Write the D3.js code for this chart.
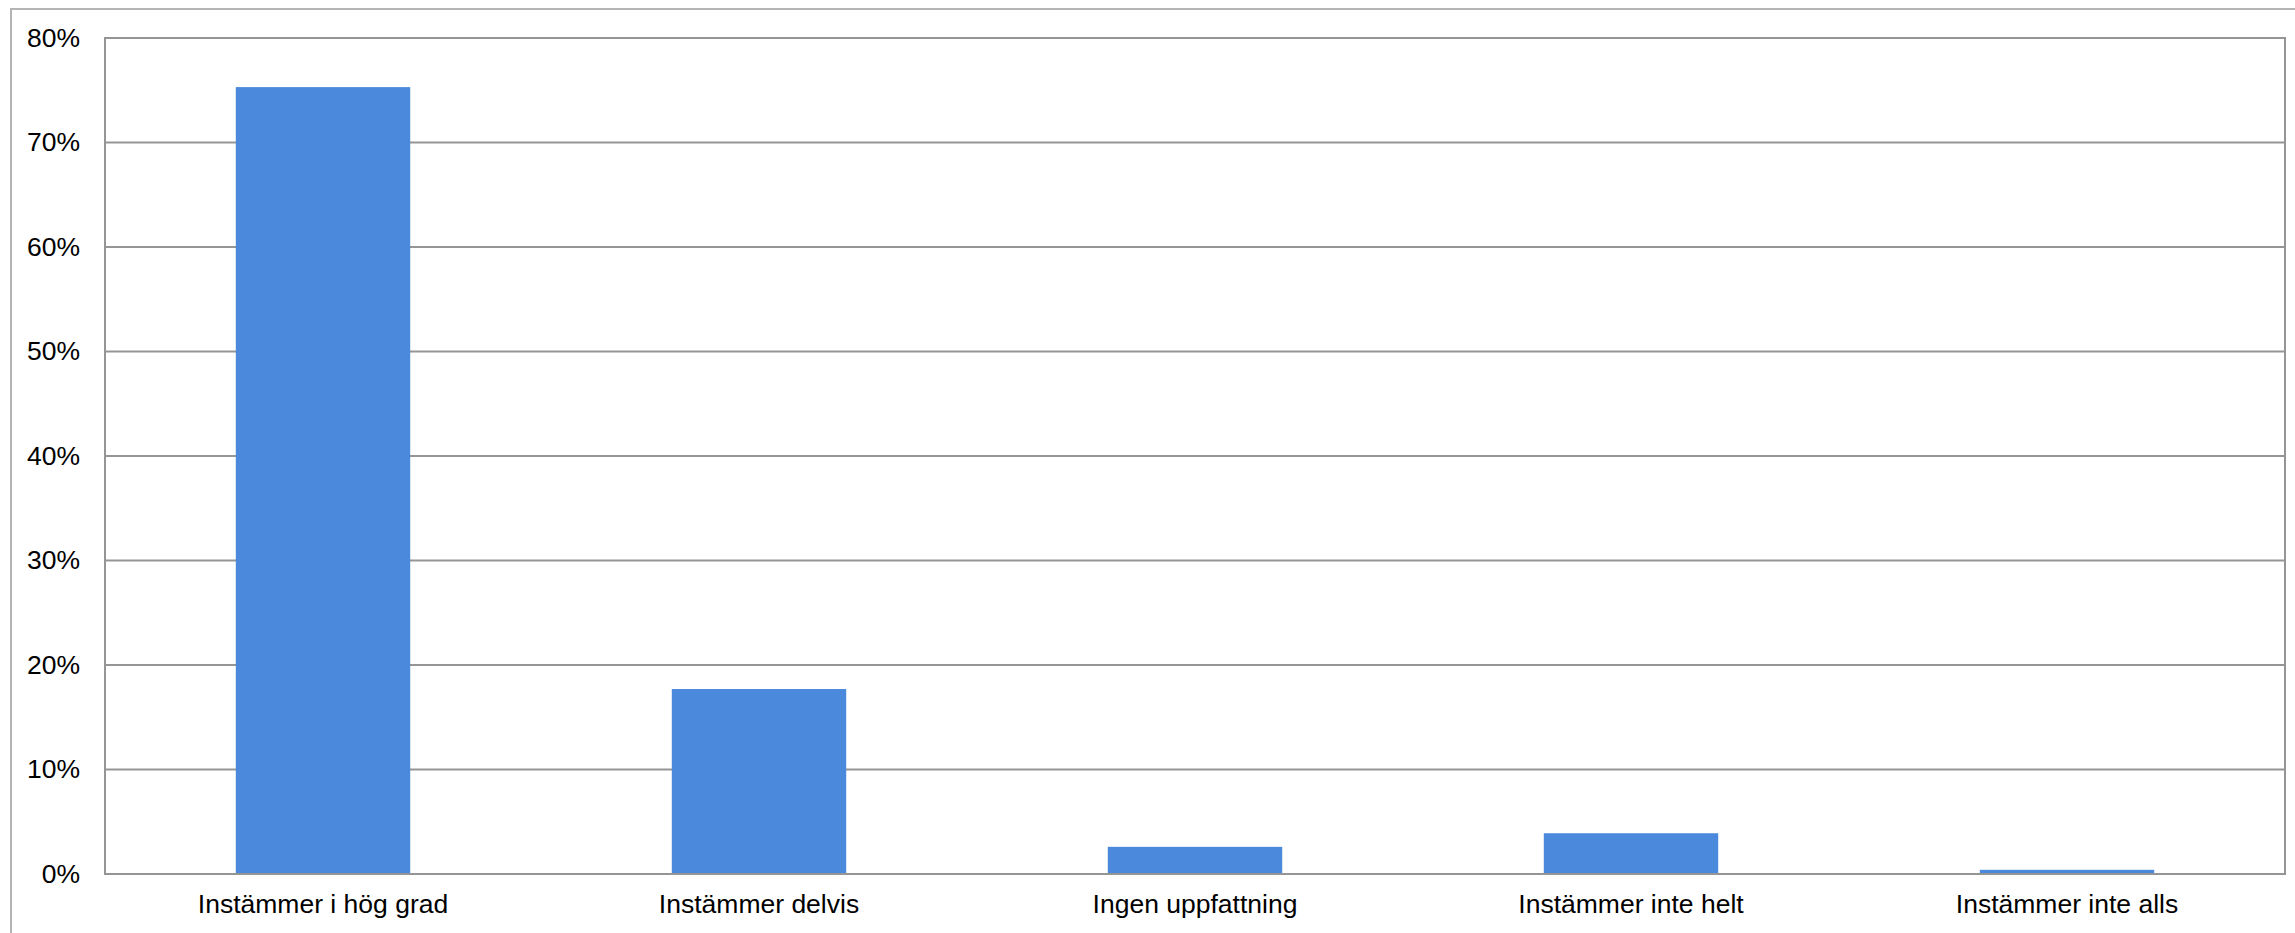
<!DOCTYPE html>
<html>
<head>
<meta charset="utf-8">
<script src="https://cdn.jsdelivr.net/npm/d3@7"></script>
<style>
  html, body { margin: 0; padding: 0; background: #fff; }
  svg { display: block; }
  text { font-family: "Liberation Sans", Arial, sans-serif; fill: #000; }
</style>
</head>
<body>
<svg id="chart" width="2295" height="933"></svg>
<script>
const categories = ["Instämmer i hög grad", "Instämmer delvis", "Ingen uppfattning", "Instämmer inte helt", "Instämmer inte alls"];
const values = [75.3, 17.7, 2.6, 3.9, 0.4];
const yTicks = [0, 10, 20, 30, 40, 50, 60, 70, 80];

const W = 2295, H = 933;
const plot = { left: 105, top: 38, right: 2285, bottom: 874 };
const FS = 26.5;

const svg = d3.select("#chart");

// outer frame
svg.append("rect")
  .attr("x", 11).attr("y", 9)
  .attr("width", W + 20).attr("height", H + 20)
  .attr("fill", "none").attr("stroke", "#b4b4b4").attr("stroke-width", 2);

const x = d3.scaleBand().domain(categories)
  .range([plot.left, plot.right]).paddingInner(0.6).paddingOuter(0.3);
const y = d3.scaleLinear().domain([0, 80]).range([plot.bottom, plot.top]);

// gridlines
svg.append("g").selectAll("line").data(yTicks).join("line")
  .attr("x1", plot.left).attr("x2", plot.right)
  .attr("y1", d => y(d)).attr("y2", d => y(d))
  .attr("stroke", "#959595").attr("stroke-width", 2);

// bars
svg.append("g").selectAll("rect").data(values).join("rect")
  .attr("x", (d, i) => x(categories[i]))
  .attr("width", x.bandwidth())
  .attr("y", d => y(d))
  .attr("height", d => y(0) - y(d))
  .attr("fill", "#4a89dc");

// plot border
svg.append("rect")
  .attr("x", plot.left).attr("y", plot.top)
  .attr("width", plot.right - plot.left).attr("height", plot.bottom - plot.top)
  .attr("fill", "none").attr("stroke", "#959595").attr("stroke-width", 2);

// y axis labels
const yAxis = d3.axisLeft(y).tickValues(yTicks).tickSize(0).tickPadding(25).tickFormat(d => d + "%");
const gy = svg.append("g").attr("transform", `translate(${plot.left},0)`).call(yAxis);
gy.select(".domain").remove();
gy.selectAll("text").attr("font-size", FS).style("font-family", '"Liberation Sans", Arial, sans-serif').attr("fill", "#000");

// x axis labels
const xAxis = d3.axisBottom(x).tickSize(0).tickPadding(20);
const gx = svg.append("g").attr("transform", `translate(0,${plot.bottom})`).call(xAxis);
gx.select(".domain").remove();
gx.selectAll("text").attr("font-size", FS).style("font-family", '"Liberation Sans", Arial, sans-serif').attr("fill", "#000");
</script>
</body>
</html>
